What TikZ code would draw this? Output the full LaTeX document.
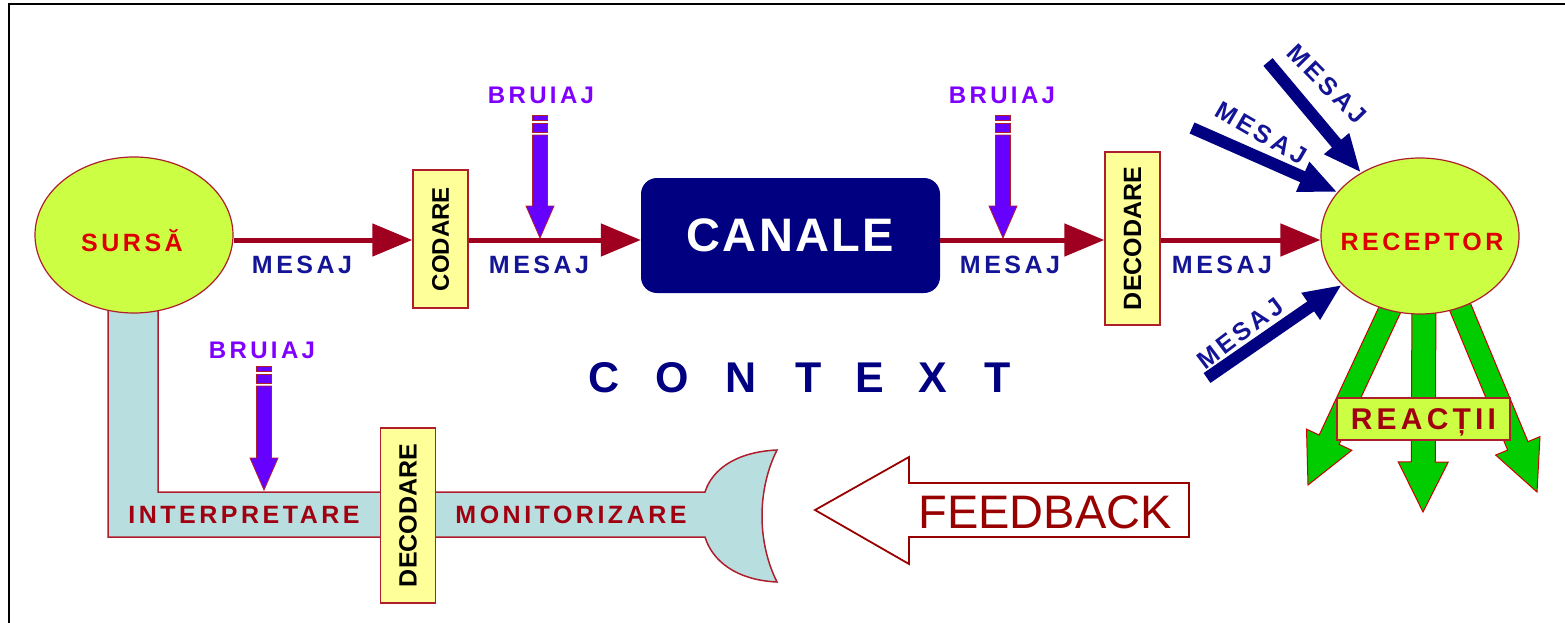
\documentclass[tikz,border=0pt]{standalone}
\usepackage{fontspec}
\setmainfont{Liberation Sans}
\newfontfamily\widefont[LetterSpace=14]{Liberation Sans}
\newfontfamily\midfont[LetterSpace=5]{Liberation Sans}
\usetikzlibrary{arrows.meta,calc,shapes.geometric}
\definecolor{darkred}{RGB}{160,0,32}
\definecolor{bordred}{RGB}{175,30,45}
\definecolor{navyb}{RGB}{0,0,128}
\definecolor{msgblue}{RGB}{20,20,150}
\definecolor{bruviolet}{RGB}{127,0,255}
\definecolor{bruvioletf}{RGB}{102,0,255}
\definecolor{limeg}{RGB}{204,255,68}
\definecolor{paleyel}{RGB}{255,255,153}
\definecolor{lightbl}{RGB}{185,222,224}
\definecolor{grn}{RGB}{0,204,0}
\definecolor{txtred}{RGB}{220,0,0}
\definecolor{wine}{RGB}{160,0,16}
\definecolor{fbred}{RGB}{153,0,0}
\newcommand\wfnt[1]{\widefont\bfseries\fontsize{#1}{#1}\selectfont}
\newcommand\bfnt[1]{\bfseries\fontsize{#1}{#1}\selectfont}
% fat arrow: #1 style, #2 start, #3 tip, #4 shaft half width, #5 head half width, #6 head length (all in pt)
\newcommand\fatarrow[6]{%
  \draw[#1] ($(#2)!#4pt!90:(#3)$) -- ($(#3)!#6pt!(#2)!#4pt!-90:(#2)$) -- ($(#3)!#6pt!(#2)!#5pt!-90:(#2)$)
    -- (#3) -- ($(#3)!#6pt!(#2)!#5pt!90:(#2)$) -- ($(#3)!#6pt!(#2)!#4pt!90:(#2)$) -- ($(#2)!#4pt!-90:(#3)$) -- cycle;}
% noise arrow: #1 name prefix, #2 x, #3 top y, #4 tip y
\newcommand\noisearrow[4]{%
  \coordinate (#1tip) at (#2,#4);
  \draw[bruarr] (#2-7.5,#3) rectangle (#2+7.5,#3+5);
  \draw[bruarr] (#2-7.5,#3+8) rectangle (#2+7.5,#3+17);
  \draw[bruarr] (#2-7.5,#3+20) -- (#2+7.5,#3+20) -- (#2+7.5,#4-32) -- (#2+14,#4-32) -- (#1tip)
    -- (#2-14,#4-32) -- (#2-7.5,#4-32) -- cycle;}
\tikzset{
  ell/.style={ellipse, draw=bordred, line width=1.2pt, fill=limeg, minimum width=198pt, minimum height=156pt, inner sep=0pt},
  vbox/.style={draw=bordred, line width=1.5pt, fill=paleyel, inner sep=0pt, minimum width=55pt},
  boxtxt/.style={rotate=90, font=\bfnt{25}, text=black, inner sep=0pt},
  msg/.style={font=\wfnt{25}, text=msgblue, inner sep=0pt},
  bru/.style={font=\wfnt{24}, text=bruviolet, inner sep=0pt},
  bruarr/.style={fill=bruvioletf, draw=bordred, line width=0.8pt},
  flow/.style={darkred, line width=5pt, -{Triangle[length=40pt,width=32pt]}},
  bluearr/.style={navyb, line width=12pt, -{Triangle[length=38pt,width=30pt]}},
  greenarr/.style={fill=grn, draw=red!80!black, line width=1pt},
  redlbl/.style={font=\wfnt{25}, text=txtred, inner sep=0pt},
  loopst/.style={fill=lightbl, draw=bordred, line width=1.5pt},
  looplbl/.style={font=\wfnt{25}, text=wine, inner sep=0pt},
  ctx/.style={font=\bfnt{43}, text=navyb, inner sep=0pt}
}
\begin{document}
\begin{tikzpicture}[x=1pt,y=-1pt]
\useasboundingbox (0,0) rectangle (1565,623);
\draw[line width=2.5pt] (9,623) -- (9,4) -- (1565,4);

% feedback loop band
\draw[loopst] (108,300) -- (108,537) -- (705,537)
  .. controls (712,560) and (735,580) .. (777,582)
  .. controls (757,542) and (757,490) .. (777,450)
  .. controls (735,452) and (712,470) .. (705,492)
  -- (158,492) -- (158,300) -- cycle;
\node[looplbl] (interp) at (244,515) {INTERPRETARE};
\node[looplbl] (monit) at (571,515) {MONITORIZARE};
\node[vbox, minimum height=175pt] (dec2) at (408,515.5) {};
\node[boxtxt] (dec2t) at (dec2) {DECODARE};
\node[bru] (bru3) at (262,350) {BRUIAJ};
\noisearrow{n3}{264}{366}{490}

% green reaction arrows
\coordinate (g1s) at (1399,290); \coordinate (g1e) at (1308,485);
\coordinate (g2s) at (1424,290); \coordinate (g2e) at (1423,512);
\coordinate (g3s) at (1453,290); \coordinate (g3e) at (1537,492);
\fatarrow{greenarr}{g1s}{g1e}{11}{25}{50}
\fatarrow{greenarr}{g2s}{g2e}{12}{25}{50}
\fatarrow{greenarr}{g3s}{g3e}{11}{24}{50}
\node[draw=bordred, line width=1.5pt, fill=limeg, minimum width=173pt, minimum height=42pt, inner sep=0pt,
  font=\wfnt{30}, text=wine, text depth=0pt] (reac) at (1423.5,419) {REACȚII};

% source and receiver
\node[ell] (src) at (134,235) {};
\node[redlbl] (srct) at (132,241) {SURSĂ};
\node[ell] (rec) at (1420,236) {};
\node[redlbl] (rect) at (1422,242) {RECEPTOR};

% main chain
\node[vbox, minimum height=138pt] (cod) at (440.5,239) {};
\node[boxtxt, font=\bfnt{24}] (codt) at (cod) {CODARE};
\node[fill=navyb, rounded corners=16pt, minimum width=299pt, minimum height=115pt, inner sep=0pt,
  text=white, font=\midfont\bfseries\fontsize{47}{47}\selectfont] (can) at (790.5,235.5) {CANALE};
\node[vbox, minimum height=173pt] (dec) at (1132.5,238.5) {};
\node[boxtxt] (dect) at (dec) {DECODARE};

\coordinate (lineY) at (0,240);
\draw[flow] (src.east |- lineY) -- (cod.west |- lineY);
\draw[flow] (cod.east |- lineY) -- (can.west |- lineY);
\draw[flow] (can.east |- lineY) -- (dec.west |- lineY);
\draw[flow] (dec.east |- lineY) -- (rec.west |- lineY);

\node[msg] (m1) at (302,265) {MESAJ};
\node[msg] (m2) at (539,265) {MESAJ};
\node[msg] (m3) at (1010,265) {MESAJ};
\node[msg] (m4) at (1222,265) {MESAJ};

\node[bru] (bru1) at (541,95) {BRUIAJ};
\noisearrow{n1}{540}{115}{238}
\node[bru] (bru2) at (1002,95) {BRUIAJ};
\noisearrow{n2}{1003}{115}{238}

% incoming messages to receiver
\coordinate (b1s) at (1268,62);
\coordinate (b2s) at (1192,128);
\coordinate (b3s) at (1207,378);
\draw[bluearr] (b1s) -- (rec.133);
\draw[bluearr] (b2s) -- (rec.152);
\draw[bluearr] (b3s) -- (rec.212);
\node[msg, rotate=-45.5] (mb1) at (1327,84) {MESAJ};
\node[msg, rotate=-30] (mb2) at (1261,133) {MESAJ};
\node[msg, rotate=37] (mb3) at (1240,333) {MESAJ};

% context
\foreach \l/\x [count=\i] in {C/604,O/672,N/741,T/809,E/870,X/933,T/998}
  \node[ctx] (ctx\i) at (\x,377.5) {\l};

% feedback arrow
\node[inner sep=0pt, font=\fontsize{47}{47}\selectfont, text=fbred] (fbt) at (1045,512) {FEEDBACK};
\coordinate (fbtip) at (815,510);
\draw[fbred, line width=1.8pt] (fbtip) -- (909,457) -- (909,483) -- (1189,483) -- (1189,537)
  -- (909,537) -- (909,564) -- cycle;
\end{tikzpicture}
\end{document}
